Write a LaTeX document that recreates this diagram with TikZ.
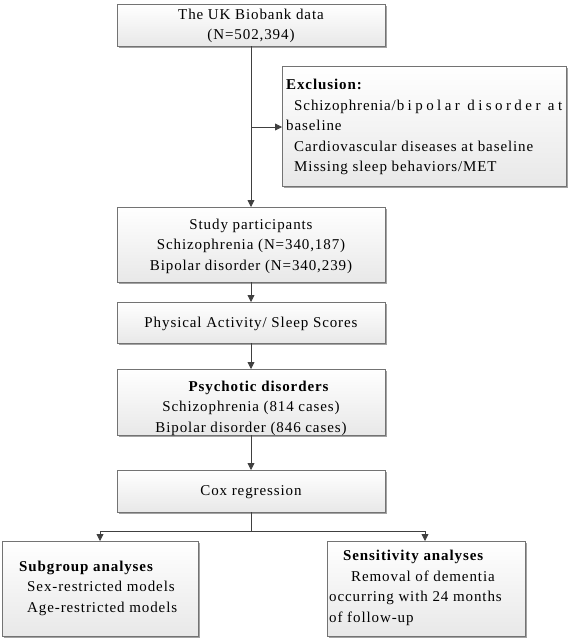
\documentclass[tikz,border=0pt]{standalone}
\usepackage{fontspec}
\setmainfont{Liberation Serif}[LetterSpace=6]
\usetikzlibrary{arrows.meta,shadows}
\begin{document}
\begin{tikzpicture}[x=1pt,y=-1pt,
  box/.style={draw=black!55, line width=0.8pt, top color=white, bottom color=black!9,
    drop shadow={shadow xshift=1.5pt, shadow yshift=-1.5pt, fill=black!45, opacity=0.8}},
  txt/.style={font=\fontsize{15}{20.5}\selectfont, inner sep=0pt},
  conn/.style={draw=black!75, line width=0.8pt},
  arr/.style={conn, -{Triangle[length=7pt,width=7pt]}}]
\useasboundingbox (0,0) rectangle (584,640);
% boxes
\path[box] (117,4) rectangle (385,46);
\node (b1) at (251,26) [txt, align=center] {The UK Biobank data\\(N=502,394)};
\coordinate (b1s) at (251,46);
\path[box] (282,66) rectangle (566,186);
\node (ex) at (286,127) [txt, anchor=west, align=left]
  {\textbf{Exclusion:}\\
   \hspace*{8pt}\makebox[268pt][s]{Schizophrenia/b i p o l a r\hspace{4pt} d i s o r d e r\hspace{4pt} a t}\\
   baseline\\
   \hspace*{8pt}Cardiovascular diseases at baseline\\
   \hspace*{8pt}Missing sleep behaviors/MET};
\coordinate (exw) at (282,127);
\path[box] (117,207) rectangle (385,282);
\node (sp) at (251,246) [txt, align=center]
  {Study participants\\Schizophrenia (N=340,187)\\Bipolar disorder (N=340,239)};
\path[box] (117,302) rectangle (385,343);
\node (pa) at (251,324) [txt] {Physical Activity/ Sleep Scores};
\path[box] (117,369) rectangle (385,435);
\node (pd) at (251,408) [txt, align=center]
  {\hspace*{16pt}\textbf{Psychotic disorders}\\Schizophrenia (814 cases)\\Bipolar disorder (846 cases)};
\path[box] (117,470) rectangle (385,512);
\node (cox) at (251,492) [txt] {Cox regression};
\path[box] (2,541) rectangle (198,636);
\node (sg) at (19,588) [txt, anchor=west, align=left]
  {\textbf{Subgroup analyses}\\\hspace*{8pt}Sex-restricted models\\\hspace*{8pt}Age-restricted models};
\path[box] (327,541) rectangle (525,636);
\node (sa) at (329,588) [txt, anchor=west, align=left]
  {\hspace*{14pt}\textbf{Sensitivity analyses}\\\hspace*{22pt}Removal of dementia\\occurring with 24 months\\of follow-up};
% connectors
\coordinate (c1) at (251,207);
\draw[arr] (b1s) -- (c1);
\coordinate (br) at (251,127);
\draw[arr] (br) -- (exw);
\draw[arr] (251,282) -- (251,302);
\draw[arr] (251,343) -- (251,369);
\draw[arr] (251,435) -- (251,470);
\coordinate (cxs) at (251,512);
\coordinate (j) at (251,531);
\coordinate (jl) at (100,531);
\coordinate (jr) at (425,531);
\draw[conn] (cxs) -- (j);
\draw[conn] (jl) -- (jr);
\draw[arr] (jl) -- (100,541);
\draw[arr] (jr) -- (425,541);
\end{tikzpicture}
\end{document}
